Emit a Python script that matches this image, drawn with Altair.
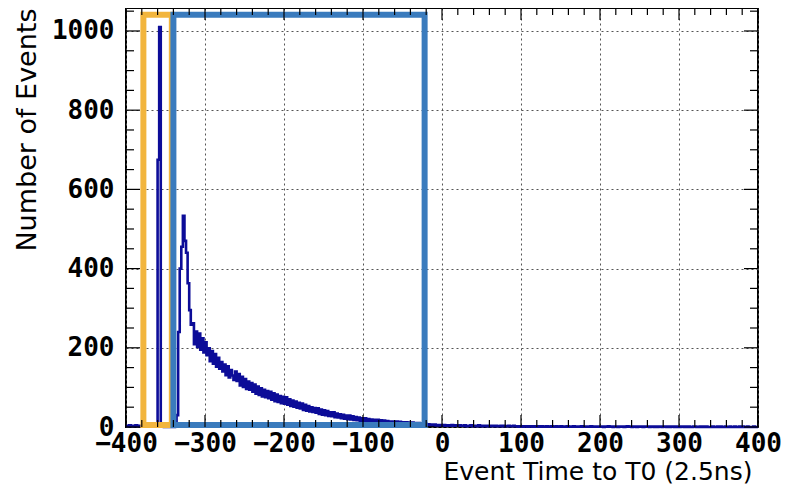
import altair as alt
import pandas as pd

# ---------------- data ----------------
BIN_START = -400
BIN_WIDTH = 2
counts = [
    # -400 .. -380
    3, 2, 4, 3, 2, 3, 4, 2, 3, 3,
    # -380 .. -360
    2, 3, 2, 4, 3, 2, 3, 2, 3, 4,
    # -360 .. -340
    675, 1010, 3, 1, 0, 0, 1, 0, 0, 0,
    # -340 .. -320
    0, 1, 30, 240, 400, 455, 533, 470, 440, 363,
    # -320 .. -300
    295, 258, 262, 209, 241, 202, 236, 195, 224, 188,
    # -300 .. -280
    214, 181, 199, 166, 192, 160, 184, 152, 175, 147,
    # -280 .. -260
    164, 140, 158, 131, 153, 125, 144, 130, 119, 140,
    # -260 .. -240
    116, 134, 105, 127, 101, 121, 96, 115, 94, 111,
    # -240 .. -220
    89, 107, 84, 102, 81, 98, 77, 94, 75, 91,
    # -220 .. -200
    73, 89, 69, 85, 65, 82, 63, 78, 60, 76,
    # -200 .. -180
    59, 75, 56, 70, 53, 67, 51, 64, 49, 61,
    # -180 .. -160
    47, 59, 43, 56, 41, 53, 39, 50, 38, 48,
    # -160 .. -140
    36, 47, 33, 44, 31, 42, 30, 40, 28, 37,
    # -140 .. -120
    27, 37, 25, 34, 24, 32, 22, 31, 21, 29,
    # -120 .. -100
    20, 29, 19, 27, 18, 25, 17, 24, 16, 22,
    # -100 .. -80
    15, 22, 14, 20, 14, 19, 13, 18, 12, 18,
    # -80 .. -60
    12, 17, 11, 16, 10, 15, 10, 14, 9, 14,
    # -60 .. -40
    9, 14, 8, 13, 8, 12, 7, 12, 7, 11,
    # -40 .. -20
    7, 11, 6, 10, 6, 10, 5, 9, 5, 9,
    # -20 .. 0
    6, 7, 5, 6, 5, 6, 4, 5, 4, 5,
    # 0 .. 20
    4, 5, 3, 4, 4, 3, 5, 3, 4, 3,
    # 20 .. 40
    3, 4, 3, 3, 4, 2, 3, 3, 4, 2,
    # 40 .. 60
    3, 3, 2, 4, 3, 2, 3, 3, 2, 3,
    # 60 .. 80
    2, 3, 3, 2, 3, 2, 2, 3, 2, 3,
    # 80 .. 100
    2, 2, 3, 2, 2, 3, 2, 2, 1, 2,
    # 100 .. 120
    2, 1, 2, 2, 1, 2, 2, 1, 2, 1,
    # 120 .. 140
    1, 2, 1, 2, 1, 1, 2, 1, 1, 2,
    # 140 .. 160
    1, 1, 2, 1, 1, 2, 1, 1, 1, 2,
    # 160 .. 180
    1, 1, 1, 2, 1, 1, 1, 1, 2, 1,
    # 180 .. 200
    1, 1, 1, 1, 2, 1, 1, 1, 1, 1,
    # 200 .. 220
    1, 1, 0, 1, 1, 2, 1, 1, 0, 1,
    # 220 .. 240
    1, 0, 1, 1, 1, 0, 1, 2, 1, 1,
    # 240 .. 260
    0, 1, 1, 0, 1, 1, 1, 0, 1, 1,
    # 260 .. 280
    1, 0, 1, 1, 0, 1, 0, 1, 1, 0,
    # 280 .. 300
    1, 1, 0, 1, 0, 1, 1, 0, 1, 0,
    # 300 .. 320
    0, 1, 1, 0, 1, 0, 1, 0, 0, 1,
    # 320 .. 340
    1, 0, 0, 1, 0, 1, 0, 1, 0, 0,
    # 340 .. 360
    0, 1, 0, 0, 1, 0, 1, 0, 0, 1,
    # 360 .. 380
    0, 0, 1, 0, 0, 1, 0, 0, 1, 0,
    # 380 .. 400
    1, 0, 0, 1, 0, 0, 0, 1, 0, 0,
]

x_major = [-400, -300, -200, -100, 0, 100, 200, 300, 400]
x_minor = [-380, -360, -340, -320, -280, -260, -240, -220, -180, -160, -140, -120,
           -80, -60, -40, -20, 20, 40, 60, 80, 120, 140, 160, 180, 220, 240, 260, 280,
           320, 340, 360, 380]
y_major = [0, 200, 400, 600, 800, 1000]
y_minor = [50, 100, 150, 250, 300, 350, 450, 500, 550, 650, 700, 750, 850, 900, 950, 1050]

box_names = ["orange", "blue"]
box_x1 = [-378, -340]
box_x2 = [-342, -22]
box_y1 = [5, 5]
box_y2 = [1041, 1041]
box_colors = ["#f2b53d", "#3a7bbd"]

X_DOMAIN = [-400, 400]
Y_DOMAIN = [0, 1058]

# ---------------- tables ----------------
edges = [BIN_START + BIN_WIDTH * i for i in range(len(counts) + 1)]
hist = pd.DataFrame({"t": edges, "n": counts + [counts[-1]]})
boxes = pd.DataFrame({"name": box_names, "t": box_x1, "x2": box_x2,
                      "n": box_y1, "y2": box_y2, "c": box_colors})
xmaj = pd.DataFrame({"t": x_major})
xmin = pd.DataFrame({"t": x_minor})
ymaj = pd.DataFrame({"n": y_major})
ymin = pd.DataFrame({"n": y_minor})

W, H = 632, 419
xs = alt.Scale(domain=X_DOMAIN, nice=False, zero=False)
ys = alt.Scale(domain=Y_DOMAIN, nice=False, zero=False)

LABEL_FONT = "DejaVu Sans Mono"

x_axis = alt.Axis(
    values=x_major, grid=True, gridDash=[2, 3], gridColor="#555", gridWidth=1,
    ticks=False, domain=False, labelFont=LABEL_FONT, labelFontWeight="bold",
    labelFontSize=26, labelColor="black", labelPadding=3, labelFlush=False,
    labelOverlap=False, format="d",
    title="Event Time to T0 (2.5ns)", titleFont="DejaVu Sans", titleFontSize=25,
    titleFontWeight="normal", titleColor="black", titleAlign="right",
    titleBaseline="alphabetic", titleX=626, titleY=52,
)
y_axis = alt.Axis(
    values=y_major, grid=True, gridDash=[2, 3], gridColor="#555", gridWidth=1,
    ticks=False, domain=False, labelFont=LABEL_FONT, labelFontWeight="bold",
    labelFontSize=26, labelColor="black", labelPadding=12, labelFlush=False,
    labelOverlap=False, format="d",
    title="Number of Events", titleFont="DejaVu Sans", titleFontSize=27,
    titleFontWeight="normal", titleColor="black", titleAlign="right",
    titleAngle=-90, titleBaseline="alphabetic", titleX=-91, titleY=0,
)

X = alt.X("t:Q", scale=xs, axis=x_axis)
Y = alt.Y("n:Q", scale=ys, axis=y_axis)

line = alt.Chart(hist).mark_line(
    interpolate="step-after", color="#0c0c98", strokeWidth=2.6
).encode(x=X, y=Y)

rects = alt.Chart(boxes).mark_rect(fillOpacity=0, strokeWidth=6).encode(
    x=X, x2="x2:Q", y=Y, y2="y2:Q",
    stroke=alt.Stroke("c:N", scale=None, legend=None),
)

def xticks(df, length):
    base = alt.Chart(df).mark_rule(color="black", strokeWidth=1.2)
    bot = base.encode(x=X, y=alt.value(H), y2=alt.value(H - length))
    top = base.encode(x=X, y=alt.value(0), y2=alt.value(length))
    return [bot, top]

def yticks(df, length):
    base = alt.Chart(df).mark_rule(color="black", strokeWidth=1.2)
    left = base.encode(y=Y, x=alt.value(0), x2=alt.value(length))
    right = base.encode(y=Y, x=alt.value(W), x2=alt.value(W - length))
    return [left, right]

layers = [line, rects] + xticks(xmaj, 12) + xticks(xmin, 7) + yticks(ymaj, 14) + yticks(ymin, 8)

chart = alt.layer(*layers).properties(
    width=W, height=H,
    autosize=alt.AutoSizeParams(type="none"),
    padding={"left": 118, "top": 0, "right": 25, "bottom": 58},
).configure_view(
    stroke="black", strokeWidth=2
)

chart.save("out.html", embed_options={"renderer": "svg", "actions": False})
